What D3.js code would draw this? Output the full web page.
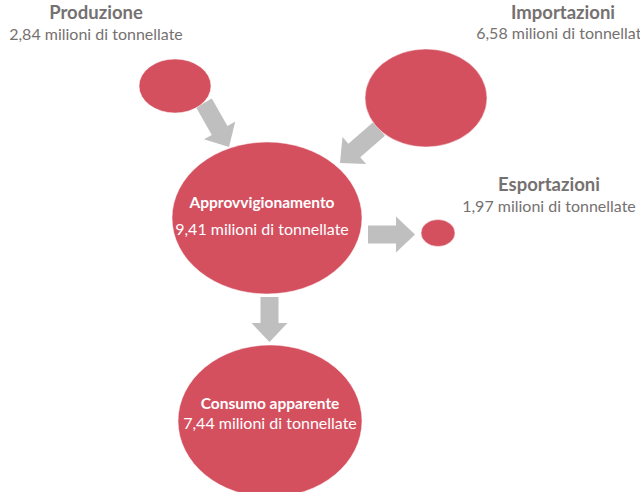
<!DOCTYPE html>
<html lang="it">
<head>
  <meta charset="UTF-8">
  <title>Flussi</title>
  <style>
    html, body {
      margin: 0;
      overflow: hidden;
      width: 100%;
      height: 100%;
      background: white;
    }
    svg {
      position: absolute;
      top: 0;
      left: 0;
      width: 640px;
      height: 492px;
    }
  </style>
</head>
<body>
  <svg></svg>
</body>
<script src="https://d3js.org/d3.v7.min.js"></script>
<script type="text/javascript">
  // data
  const names = ['Produzione', 'Importazioni', 'Approvvigionamento', 'Esportazioni', 'Consumo apparente']
  const values = [2.84, 6.58, 9.41, 1.97, 7.44]
  const unit = 'milioni di tonnellate'
  // flows: from -> to (index into names)
  const flows = [[0, 2], [1, 2], [2, 3], [2, 4]]

  // layout (pixels)
  const ellipses = [
    { cx: 175, cy: 86, rx: 36, ry: 27 },
    { cx: 426, cy: 98, rx: 61, ry: 49 },
    { cx: 267, cy: 218, rx: 95, ry: 76 },
    { cx: 438, cy: 233, rx: 17, ry: 13.5 },
    { cx: 270, cy: 421, rx: 92, ry: 76 }
  ]
  // label: inside (white) or outside (grey); x = centre, y = title baseline, dy = gap to 2nd line
  const labels = [
    { x: 96, y: 19, dy: 21, inside: false },
    { x: 563, y: 19, dy: 20, inside: false },
    { x: 262, y: 208, dy: 27, inside: true },
    { x: 549, y: 191, dy: 21, inside: false },
    { x: 270, y: 409, dy: 20, inside: true }
  ]
  const arrows = [
    { x1: 204, y1: 103, x2: 229, y2: 147 },
    { x1: 379, y1: 129, x2: 340, y2: 163 },
    { x1: 368, y1: 234.5, x2: 415, y2: 234.5 },
    { x1: 269.5, y1: 297, x2: 269.5, y2: 342 }
  ]

  const svg = d3.select('svg')
  const fmt = d3.format('.2f')
  const itNum = v => fmt(v).replace('.', ',')

  const red = '#d4505f'
  const grey = '#bfbfbf'
  const font = 'Lato, "Open Sans", sans-serif'

  // arrows
  const shaftW = 18, headW = 36, headL = 19
  svg.selectAll('path.arrow')
    .data(flows)
    .enter()
    .append('path')
    .attr('class', 'arrow')
    .attr('fill', grey)
    .attr('d', (f, i) => {
      const a = arrows[i]
      const len = Math.hypot(a.x2 - a.x1, a.y2 - a.y1)
      const s = len - headL
      const pts = [
        [0, -shaftW / 2], [s, -shaftW / 2], [s, -headW / 2], [len, 0],
        [s, headW / 2], [s, shaftW / 2], [0, shaftW / 2]
      ]
      return d3.line()(pts) + 'Z'
    })
    .attr('transform', (f, i) => {
      const a = arrows[i]
      const ang = Math.atan2(a.y2 - a.y1, a.x2 - a.x1) * 180 / Math.PI
      return `translate(${a.x1},${a.y1}) rotate(${ang})`
    })

  // nodes
  svg.selectAll('ellipse')
    .data(names)
    .enter()
    .append('ellipse')
    .attr('cx', (d, i) => ellipses[i].cx)
    .attr('cy', (d, i) => ellipses[i].cy)
    .attr('rx', (d, i) => ellipses[i].rx)
    .attr('ry', (d, i) => ellipses[i].ry)
    .attr('fill', red)
    .attr('stroke', '#fff')
    .attr('stroke-opacity', 0.5)
    .attr('stroke-width', 1)

  // labels
  const lab = svg.selectAll('g.label')
    .data(names)
    .enter()
    .append('g')
    .attr('class', 'label')
    .attr('transform', (d, i) => `translate(${labels[i].x},${labels[i].y})`)
    .attr('font-family', font)
    .attr('text-anchor', 'middle')
    .attr('fill', (d, i) => labels[i].inside ? '#ffffff' : '#767171')

  lab.append('text')
    .attr('font-weight', 'bold')
    .attr('font-size', (d, i) => labels[i].inside ? 15.5 : 18.5)
    .text(d => d)

  lab.append('text')
    .attr('y', (d, i) => labels[i].dy)
    .attr('font-size', 16)
    .text((d, i) => `${itNum(values[i])} ${unit}`)
</script>
</html>
